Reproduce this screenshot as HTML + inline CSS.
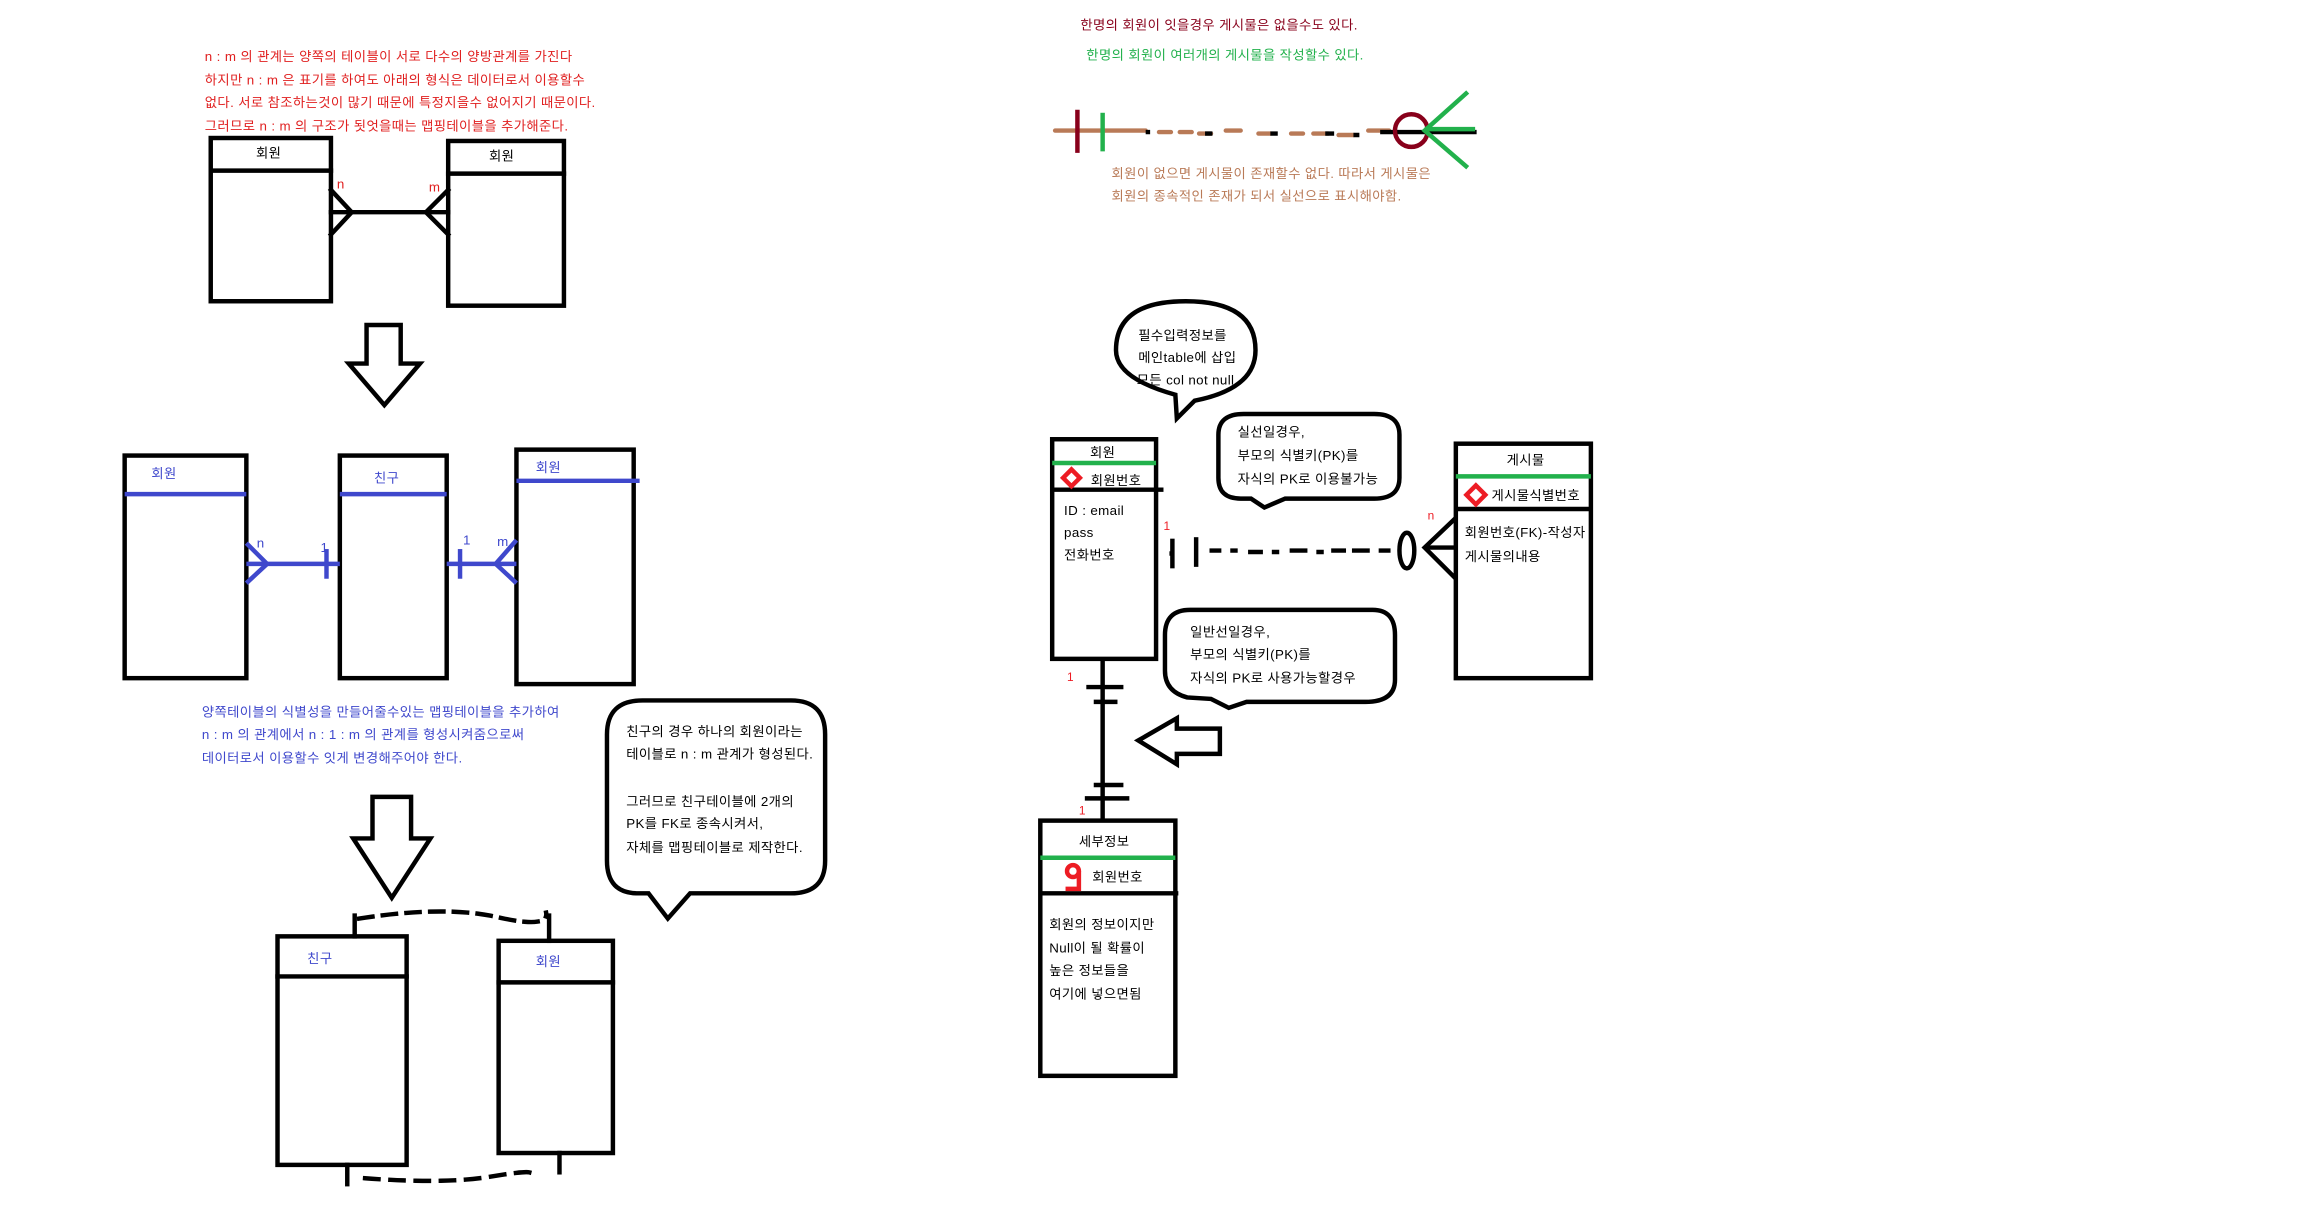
<!DOCTYPE html>
<html><head><meta charset="utf-8"><style>
html,body{margin:0;padding:0;background:#fff;}
svg{display:block;}
text{font-family:"Liberation Sans","Noto Sans CJK KR","NanumGothic",sans-serif;letter-spacing:0.25px;}
</style></head><body>
<svg width="2324" height="1210" viewBox="0 0 1566 815.4" preserveAspectRatio="none" xmlns="http://www.w3.org/2000/svg">
<rect width="1566" height="815.4" fill="#fff"/>
<g fill="none" stroke="#000" stroke-width="3" stroke-linecap="square">
<rect x="142" y="93" width="81" height="110"/><line x1="142" y1="115" x2="223" y2="115"/>
<rect x="302" y="95" width="78" height="111"/><line x1="302" y1="117" x2="380" y2="117"/>
<line x1="223" y1="143" x2="302" y2="143"/>
<polyline points="223,128 237,143 223,158"/>
<polyline points="302,128 287,143 302,158"/>
<polygon points="247,219 270,219 270,245 283,245 259,273 235,245 247,245" stroke-linejoin="miter"/>
<rect x="84" y="307" width="82" height="150"/>
<rect x="229" y="307" width="72" height="150"/>
<rect x="348" y="303" width="79" height="158"/>
<polygon points="251,537 277,537 277,565 290,565 264,605 238,565 251,565"/>
<rect x="187" y="631" width="87" height="154"/><line x1="187" y1="658" x2="274" y2="658"/>
<rect x="336" y="634" width="77" height="143"/><line x1="336" y1="662" x2="413" y2="662"/>
<line x1="239" y1="631" x2="239" y2="617"/>
<line x1="370" y1="634" x2="370" y2="617"/>
<path d="M242,619 Q300,610 335,618 T368,615" stroke-dasharray="9,7"/>
<line x1="234" y1="785" x2="234" y2="798"/>
<line x1="377" y1="777" x2="377" y2="790"/>
<path d="M246,794 Q300,798 330,793 T357,791" stroke-dasharray="9,8"/>
<path d="M433,472 L533,472 Q556,472 556,495 L556,580 Q556,602 533,602 L465,602 L450,619 L437,602 L430,602 Q409,602 409,580 L409,495 Q409,472 433,472 Z"/>
</g>
<g fill="none" stroke="#3f48cc" stroke-width="3">
<line x1="84" y1="333" x2="166" y2="333"/>
<line x1="229" y1="333" x2="301" y2="333"/>
<line x1="348" y1="324" x2="431" y2="324"/>
<line x1="166" y1="380" x2="229" y2="380"/>
<polyline points="166,366 180,380 166,393"/>
<line x1="220" y1="370" x2="220" y2="390"/>
<line x1="301" y1="380" x2="348" y2="380"/>
<line x1="310" y1="370" x2="310" y2="390"/>
<polyline points="348,364 334,380 348,393"/>
</g>
<g font-size="9" fill="#e02020">
<text x="138" y="41">n : m 의 관계는 양쪽의 테이블이 서로 다수의 양방관계를 가진다</text>
<text x="138" y="57">하지만 n : m 은 표기를 하여도 아래의 형식은 데이터로서 이용할수</text>
<text x="138" y="72">없다. 서로 참조하는것이 많기 때문에 특정지을수 없어지기 때문이다.</text>
<text x="138" y="88">그러므로 n : m 의 구조가 됫엇을때는 맵핑테이블을 추가해준다.</text>
<text x="227" y="127">n</text><text x="289" y="129">m</text>
</g>
<g font-size="9" fill="#000">
<text x="181" y="106" text-anchor="middle">회원</text>
<text x="338" y="108" text-anchor="middle">회원</text>
<text x="422" y="496">친구의 경우 하나의 회원이라는</text>
<text x="422" y="511">테이블로 n : m 관계가 형성된다.</text>
<text x="422" y="543">그러므로 친구테이블에 2개의</text>
<text x="422" y="558">PK를 FK로 종속시켜서,</text>
<text x="422" y="574">자체를 맵핑테이블로 제작한다.</text>
</g>
<g font-size="9" fill="#3f48cc">
<text x="102" y="322">회원</text><text x="252" y="325">친구</text><text x="361" y="318">회원</text>
<text x="173" y="369">n</text><text x="216" y="372">1</text><text x="312" y="367">1</text><text x="335" y="368">m</text>
<text x="136" y="483">양쪽테이블의 식별성을 만들어줄수있는 맵핑테이블을 추가하여</text>
<text x="136" y="498">n : m 의 관계에서 n : 1 : m 의 관계를 형성시켜줌으로써</text>
<text x="136" y="514">데이터로서 이용할수 잇게 변경해주어야 한다.</text>
<text x="207" y="649">친구</text><text x="361" y="651">회원</text>
</g>
<text x="728" y="20" font-size="9" fill="#88001b">한명의 회원이 잇을경우 게시물은 없을수도 있다.</text>
<text x="732" y="40" font-size="9" fill="#22b14c">한명의 회원이 여러개의 게시물을 작성할수 있다.</text>
<g stroke-width="3" fill="none">
<line x1="711" y1="88" x2="772" y2="88" stroke="#b97a57" stroke-linecap="round"/>
<path d="M781,89h8 M795,89h8 M808,90h8 M826,88h10 M848,90h8 M870,90h8 M885,90h10 M902,91h10 M922,88h14" stroke="#b97a57" stroke-linecap="round"/>
<path d="M772,89h3 M812,90h5 M856,90h5 M893,90h6 M912,91h4" stroke="#000"/>
<line x1="930" y1="89" x2="995" y2="89" stroke="#000"/>
<line x1="726" y1="74" x2="726" y2="103" stroke="#88001b"/>
<line x1="743" y1="76" x2="743" y2="102" stroke="#22b14c"/>
<circle cx="951" cy="88" r="11" stroke="#88001b"/>
<polyline points="989,62 960,88 989,113" stroke="#22b14c"/>
<line x1="960" y1="87" x2="994" y2="87" stroke="#22b14c"/>
</g>
<text x="749" y="120" font-size="9" fill="#b97a57">회원이 없으면 게시물이 존재할수 없다. 따라서 게시물은</text>
<text x="749" y="135" font-size="9" fill="#b97a57">회원의 종속적인 존재가 되서 실선으로 표시해야함.</text>
<g fill="none" stroke="#000" stroke-width="3">
<path d="M793,282 L792,266 Q752,255 752,236 Q752,203 799,203 Q846,203 846,236 Q846,262 805,270 Z"/>
<rect x="709" y="296" width="70" height="148"/>
<line x1="709" y1="330" x2="784" y2="330"/>
<path d="M838,279 L926,279 Q943,279 943,293 L943,322 Q943,336 926,336 L866,336 L852,342 L843,336 L836,336 Q821,336 821,322 L821,293 Q821,279 838,279 Z"/>
<rect x="981" y="299" width="91" height="158"/>
<line x1="981" y1="343" x2="1072" y2="343"/>
<line x1="790" y1="363" x2="790" y2="383"/>
<line x1="806" y1="362" x2="806" y2="382"/>
<line x1="788" y1="373" x2="791" y2="373"/>
<path d="M815,371h8 M829,371h5 M841,372h10 M857,372h5 M869,371h12 M887,372h5 M897,371h10 M911,371h12 M929,371h8" />
<ellipse cx="948" cy="371" rx="5" ry="12"/>
<polyline points="981,349 960,369 981,390"/>
<line x1="960" y1="369" x2="981" y2="369"/>
<path d="M802,411 L925,411 Q940,411 940,428 L940,458 Q940,473 920,473 L840,473 L828,477 L816,471 L800,470 Q785,466 785,452 L785,428 Q785,411 802,411 Z"/>
<line x1="743" y1="444" x2="743" y2="553"/>
<line x1="732" y1="463" x2="757" y2="463"/>
<line x1="737" y1="473" x2="753" y2="473"/>
<line x1="737" y1="529" x2="757" y2="529"/>
<line x1="731" y1="538" x2="761" y2="538"/>
<polygon points="767,499 793,484 793,491 822,491 822,508 793,508 793,515"/>
<rect x="701" y="553" width="91" height="172"/>
<line x1="701" y1="602" x2="794" y2="602"/>
</g>
<g stroke="#22b14c" stroke-width="3">
<line x1="709" y1="312" x2="779" y2="312"/>
<line x1="981" y1="321" x2="1072" y2="321"/>
<line x1="701" y1="578" x2="792" y2="578"/>
</g>
<g fill="none" stroke="#ed1c24" stroke-width="3">
<rect x="718" y="318" width="8" height="8" transform="rotate(45 722 322)"/>
<rect x="990" y="329" width="9" height="9" transform="rotate(45 994.5 333.5)"/>
<circle cx="723" cy="587" r="4"/>
<path d="M727,587 L727,599 L718,599"/>
</g>
<g font-size="9" fill="#000">
<text x="743" y="308" text-anchor="middle">회원</text>
<text x="735" y="327">회원번호</text>
<text x="717" y="347">ID : email</text>
<text x="717" y="362">pass</text>
<text x="717" y="377">전화번호</text>
<text x="767" y="229">필수입력정보를</text>
<text x="767" y="244">메인table에 삽입</text>
<text x="766" y="259">모든 col not null</text>
<text x="834" y="294">실선일경우,</text>
<text x="834" y="310">부모의 식별키(PK)를</text>
<text x="834" y="326">자식의 PK로 이용불가능</text>
<text x="1028" y="313" text-anchor="middle">게시물</text>
<text x="1005" y="337">게시물식별번호</text>
<text x="987" y="362">회원번호(FK)-작성자</text>
<text x="987" y="378">게시물의내용</text>
<text x="802" y="429">일반선일경우,</text>
<text x="802" y="444">부모의 식별키(PK)를</text>
<text x="802" y="460">자식의 PK로 사용가능할경우</text>
<text x="744" y="570" text-anchor="middle">세부정보</text>
<text x="736" y="594">회원번호</text>
<text x="707" y="626">회원의 정보이지만</text>
<text x="707" y="642">Null이 될 확률이</text>
<text x="707" y="657">높은 정보들을</text>
<text x="707" y="673">여기에 넣으면됨</text>
</g>
<g font-size="8" fill="#ed1c24">
<text x="784" y="357">1</text><text x="962" y="350">n</text>
<text x="719" y="459">1</text><text x="727" y="549">1</text>
</g>
</svg>
</body></html>
